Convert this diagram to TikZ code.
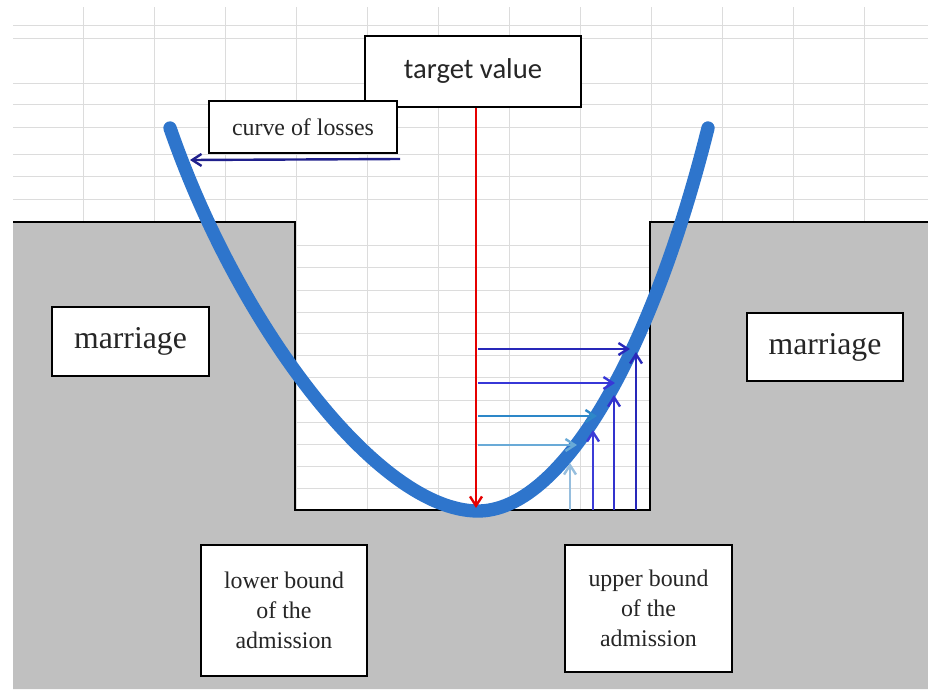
\documentclass[tikz,border=0pt]{standalone}
\usepackage{fontspec}
\setmainfont{Liberation Serif}
\newfontfamily\calibri{Carlito}
\usetikzlibrary{arrows.meta}
\definecolor{lossblue}{RGB}{46,117,204}
\definecolor{gridgray}{RGB}{220,220,220}
\definecolor{pitgray}{RGB}{192,192,192}
\definecolor{navyarrow}{RGB}{32,32,140}
\definecolor{hblueA}{RGB}{40,40,185}
\definecolor{hblueB}{RGB}{55,55,215}
\definecolor{hblueC}{RGB}{45,135,200}
\definecolor{hblueD}{RGB}{105,170,215}
\definecolor{vblueA}{RGB}{150,190,222}
\definecolor{vblueB}{RGB}{60,60,215}
\definecolor{vblueC}{RGB}{50,50,205}
\definecolor{vblueD}{RGB}{40,40,185}

\begin{document}
\begin{tikzpicture}[x=0.75pt, y=-0.75pt,
  tbox/.style={draw, line width=2pt, fill=white, inner sep=0pt, align=center, text=black!85},
  tip/.style={-{Straight Barb[length=7pt,width=9pt]}, line width=1.8pt}]
\useasboundingbox (0,0) rectangle (928,689);
\foreach \x in {83,154,...,870} \draw[gridgray, line width=0.75pt] (\x,7) -- (\x,510);
\foreach \y in {25,38,83,104,127,154,176,199,245,267,290,312,333,355,377,400,422,444,466,488} \draw[gridgray, line width=0.75pt] (13,\y) -- (928,\y);
\fill[pitgray] (13,222) -- (295,222) -- (295,510) -- (650,510) -- (650,222) -- (928,222) -- (928,689) -- (13,689) -- cycle;
\draw[line width=2.2pt] (13,222) -- (295,222) -- (295,510) -- (650,510) -- (650,222) -- (928,222);
\node[tbox, minimum width=162pt, minimum height=53.25pt, font=\calibri\fontsize{21.5}{26}\selectfont] (target) at (473,71.5) {target value};
\node[tbox, minimum width=141pt, minimum height=39pt, font=\fontsize{17.9}{22}\selectfont] (losses) at (303,127) {curve of losses};
\node[tbox, minimum width=117.75pt, minimum height=51.75pt, font=\fontsize{23.8}{28}\selectfont] (marriageL) at (130.5,341.5) {marriage};
\node[tbox, minimum width=117pt, minimum height=51pt, font=\fontsize{23.8}{28}\selectfont] (marriageR) at (825,347) {marriage};
\node[tbox, minimum width=124.5pt, minimum height=98.25pt, font=\fontsize{17.9}{22.5}\selectfont] (lower) at (284,610.5) {lower bound\\of the\\admission};
\node[tbox, minimum width=125.25pt, minimum height=95.25pt, font=\fontsize{17.9}{22.5}\selectfont] (upper) at (648.5,608.5) {upper bound\\of the\\admission};
\draw[lossblue, line width=10pt, line cap=round] (170,128) .. controls (240,330) and (380,511) .. (478,511) .. controls (560,511) and (650,360) .. (708,128);
\coordinate (vertex) at (476,508); \coordinate (lossstart) at (400,159); \coordinate (lossend) at (190,160);
\draw[tip, red!90!black] (target.south -| vertex) -- (vertex);
\draw[tip, navyarrow] (lossstart) -- (lossend);
\foreach \y/\xe/\c in {349/630/hblueA, 383/615/hblueB, 416/597/hblueC, 445/577/hblueD} \draw[tip, \c] (478,\y) -- (\xe,\y);
\foreach \x/\ye/\c in {570/463/vblueA, 593/430/vblueB, 614/395/vblueC, 636/352/vblueD} \draw[tip, \c] (\x,510) -- (\x,\ye);
\end{tikzpicture}
\end{document}
